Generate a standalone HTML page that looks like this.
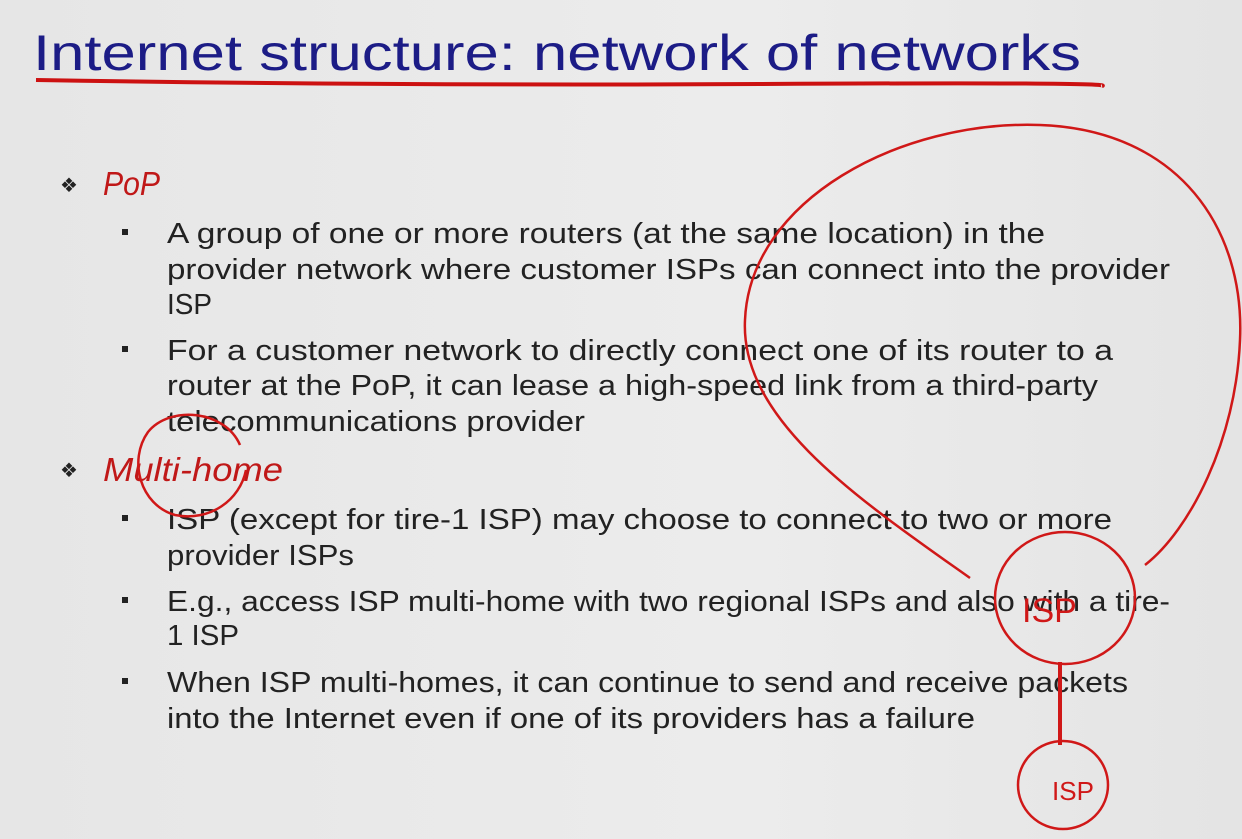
<!DOCTYPE html>
<html><head><meta charset="utf-8"><style>
html,body{margin:0;padding:0}
body{width:1242px;height:839px;overflow:hidden;background:linear-gradient(90deg,#e6e6e6,#ececec 60%,#e4e4e4)}
svg{position:absolute;left:0;top:0}
</style></head><body>
<svg width="1242" height="839" viewBox="0 0 1242 839" font-family="Liberation Sans, sans-serif">
<text x="33" y="70" font-size="50" fill="#1c1c86" textLength="1048" lengthAdjust="spacingAndGlyphs">Internet structure: network of networks</text>
<path d="M36 80 Q400 86 760 84 T1102 86" stroke="#cc1111" stroke-width="4" fill="none"/>
<g fill="#222">
<text x="60" y="192" font-size="20">❖</text>
<text x="60" y="477" font-size="20">❖</text>
<rect x="122" y="229" width="6" height="6"/><rect x="122" y="346" width="6" height="6"/>
<rect x="122" y="515" width="6" height="6"/><rect x="122" y="597" width="6" height="6"/><rect x="122" y="678" width="6" height="6"/>
</g>
<g font-style="italic" fill="#c01818" font-size="33">
<text x="103" y="195" textLength="57" lengthAdjust="spacingAndGlyphs">PoP</text>
<text x="103" y="481" textLength="180" lengthAdjust="spacingAndGlyphs">Multi-home</text>
</g>
<g font-size="29" fill="#222">
<text x="167" y="243" textLength="878" lengthAdjust="spacingAndGlyphs">A group of one or more routers (at the same location) in the</text>
<text x="167" y="279" textLength="1003" lengthAdjust="spacingAndGlyphs">provider network where customer ISPs can connect into the provider</text>
<text x="167" y="314" textLength="45" lengthAdjust="spacingAndGlyphs">ISP</text>
<text x="167" y="360" textLength="946" lengthAdjust="spacingAndGlyphs">For a customer network to directly connect one of its router to a</text>
<text x="167" y="395" textLength="931" lengthAdjust="spacingAndGlyphs">router at the PoP, it can lease a high-speed link from a third-party</text>
<text x="167" y="431" textLength="418" lengthAdjust="spacingAndGlyphs">telecommunications provider</text>
<text x="167" y="529" textLength="945" lengthAdjust="spacingAndGlyphs">ISP (except for tire-1 ISP) may choose to connect to two or more</text>
<text x="167" y="565" textLength="187" lengthAdjust="spacingAndGlyphs">provider ISPs</text>
<text x="167" y="611" textLength="1003" lengthAdjust="spacingAndGlyphs">E.g., access ISP multi-home with two regional ISPs and also with a tire-</text>
<text x="167" y="645" textLength="72" lengthAdjust="spacingAndGlyphs">1 ISP</text>
<text x="167" y="692" textLength="961" lengthAdjust="spacingAndGlyphs">When ISP multi-homes, it can continue to send and receive packets</text>
<text x="167" y="728" textLength="808" lengthAdjust="spacingAndGlyphs">into the Internet even if one of its providers has a failure</text>
</g>
<g stroke="#d01818" stroke-width="2.5" fill="none">
<path d="M970 578 C860 500 740 420 745 320 C750 200 900 120 1040 125 C1180 130 1245 230 1240 340 C1236 440 1190 530 1145 565"/>
<path d="M240 445 C225 410 170 405 148 432 C128 460 140 505 175 515 C210 522 240 500 246 470"/>
<ellipse cx="1065" cy="598" rx="70" ry="66"/>
<path d="M1060 662 L1060 745" stroke-width="4"/>
<ellipse cx="1063" cy="785" rx="45" ry="44"/>
</g>
<g fill="#d01818">
<text x="1022" y="622" font-size="34">ISP</text>
<text x="1052" y="800" font-size="26">ISP</text>
</g>
</svg>
</body></html>
